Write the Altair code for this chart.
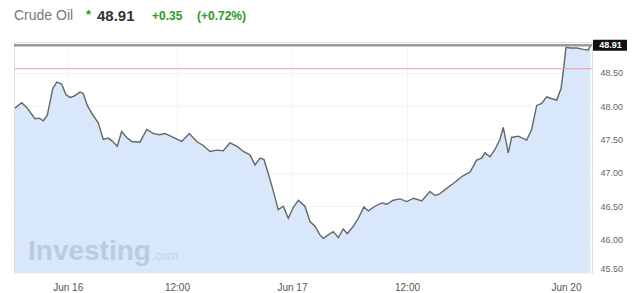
import altair as alt
import pandas as pd

# trading-hours index (Jun 16 00:00 ~ 1.0) and prices
hours = [-4.41, -3.72, -3.21, -2.36, -1.92, -1.51, -1.10, -0.54, -0.13, 0.38,
         0.82, 1.23, 1.64, 2.26, 2.59, 3.01, 3.56, 4.13, 4.65, 5.16,
         5.61, 6.08, 6.53, 7.05, 7.56, 8.41, 9.10, 9.77, 10.39, 10.97,
         11.83, 12.69, 13.47, 14.23, 14.90, 15.59, 16.28, 16.95, 17.64, 18.33,
         19.01, 19.69, 20.21, 20.72, 21.13, 21.57, 22.08, 22.59, 23.11, 23.62,
         24.13, 24.65, 25.33, 25.85, 26.36, 26.87, 27.21, 27.72, 28.24, 28.75,
         29.26, 29.67, 30.29, 30.80, 31.38, 31.83, 32.51, 33.20, 33.71, 34.39,
         35.08, 35.76, 36.51, 37.30, 38.15, 38.67, 39.11, 39.52, 40.54, 41.57,
         42.26, 42.94, 43.46, 43.79, 44.31, 44.82, 45.33, 45.67, 46.18, 46.53,
         47.21, 48.07, 48.58, 49.10, 49.61, 50.12, 50.64, 51.15, 51.59, 51.83,
         52.10, 52.51, 53.20, 53.88, 54.39, 54.62]
prices = [47.97, 48.05, 47.98, 47.81, 47.82, 47.78, 47.86, 48.26, 48.36, 48.33,
          48.17, 48.13, 48.15, 48.21, 48.19, 48.01, 47.87, 47.75, 47.50, 47.52,
          47.47, 47.40, 47.62, 47.53, 47.47, 47.46, 47.65, 47.59, 47.57, 47.59,
          47.53, 47.47, 47.59, 47.47, 47.41, 47.32, 47.34, 47.33, 47.45, 47.40,
          47.32, 47.27, 47.12, 47.22, 47.20, 46.99, 46.73, 46.45, 46.50, 46.32,
          46.48, 46.59, 46.50, 46.27, 46.20, 46.07, 46.02, 46.07, 46.12, 46.03,
          46.16, 46.09, 46.20, 46.32, 46.49, 46.43, 46.50, 46.55, 46.53, 46.59,
          46.61, 46.57, 46.62, 46.58, 46.72, 46.66, 46.68, 46.73, 46.84, 46.96,
          47.01, 47.19, 47.22, 47.30, 47.24, 47.35, 47.50, 47.68, 47.30, 47.53,
          47.55, 47.49, 47.65, 48.01, 48.04, 48.14, 48.11, 48.09, 48.26, 48.52,
          48.88, 48.87, 48.87, 48.85, 48.84, 48.91]

tick_hours = [1.0, 12.2, 24.0, 35.8, 52.1]
tick_labels = ["Jun 16", "12:00", "Jun 17", "12:00", "Jun 20"]
y_ticks = [45.5, 46.0, 46.5, 47.0, 47.5, 48.0, 48.5]

instrument = "Crude Oil"
last_price = 48.91
change = 0.35
change_pct = 0.72
prev_close = round(last_price - change, 2)
watermark = "Investing"
watermark_suffix = ".com"

df = pd.DataFrame({"t": hours, "p": prices})

label_expr = ""
for v, lab in zip(tick_hours, tick_labels):
    label_expr += f"abs(datum.value - {v}) < 0.01 ? '{lab}' : "
label_expr += "''"

FONT = "Liberation Sans"

xscale = alt.Scale(domain=[-4.51, 54.77], nice=False, zero=False)
yscale = alt.Scale(domain=[45.50, 48.96], nice=False, zero=False)

yaxis = alt.Axis(orient="right", values=y_ticks, format=".2f",
                 domain=False, ticks=False, grid=True,
                 gridColor="#f4f4f4", labelColor="#666",
                 labelFontSize=9, labelPadding=8, labelFont=FONT,
                 labelOverlap=False, labelFlush=False,
                 labelBaseline={"condition": {"test": "datum.value < 45.6",
                                              "value": "bottom"},
                                "value": "middle"},
                 title=None)

base = alt.Chart(df).encode(
    x=alt.X("t:Q", scale=xscale,
            axis=alt.Axis(values=tick_hours, labelExpr=label_expr, domain=False,
                          ticks=False, grid=True, gridColor="#f4f4f4",
                          labelColor="#555", labelFontSize=10, labelPadding=9,
                          labelFont=FONT, labelOverlap=False, title=None)),
    y=alt.Y("p:Q", scale=yscale, axis=yaxis),
)

area = base.mark_area(color="#d8e7f9", opacity=1, clip=True)
line = base.mark_line(color="#666666", strokeWidth=1.4, clip=True)

one = pd.DataFrame({"a": [0]})


def ydatum(v):
    return alt.Y(datum=v, type="quantitative", scale=yscale, axis=yaxis)


close_rule = alt.Chart(one).mark_rule(color="#9a9a9a", strokeWidth=2.5).encode(
    y=ydatum(last_price))
prev_rule = alt.Chart(one).mark_rule(color="#e8a4a4", strokeWidth=1).encode(
    y=ydatum(prev_close))

box = alt.Chart(one).mark_tick(color="#111111", size=35, thickness=11,
                               orient="horizontal", opacity=1).encode(
    x=alt.value(596.5), y=ydatum(last_price))
box_text = alt.Chart(one).mark_text(color="white", fontSize=9, font=FONT,
                                    fontWeight="bold", align="center",
                                    baseline="middle",
                                    text=f"{last_price:.2f}").encode(
    x=alt.value(596.5), y=ydatum(last_price))


def label(txt, x, size, color, weight="normal", y=-26, font=FONT):
    return alt.Chart(one).mark_text(text=txt, fontSize=size, color=color,
                                    fontWeight=weight, align="left",
                                    baseline="middle", font=font).encode(
        x=alt.value(x), y=alt.value(y))


h1 = label(instrument, 0, 14, "#777777")
h2 = label("*", 72, 13, "#2a9a2a", "bold", y=-27)
h3 = label(f"{last_price:.2f}", 83, 15, "#333333", "bold")
h4 = label(f"+{change:.2f}", 138, 12, "#2a9a2a", "bold")
h5 = label(f"(+{change_pct:.2f}%)", 183, 12, "#2a9a2a", "bold")

wm1 = alt.Chart(one).mark_text(text=watermark, fontSize=28, color="#bccbdc",
                               fontWeight="bold", align="left",
                               baseline="alphabetic", font=FONT).encode(
    x=alt.value(14), y=alt.value(218))
wm2 = alt.Chart(one).mark_text(text=watermark_suffix, fontSize=12,
                               color="#c4d2e2", align="left",
                               baseline="alphabetic", font=FONT).encode(
    x=alt.value(138), y=alt.value(218))

chart = alt.layer(area, line, wm1, wm2, prev_rule, close_rule, box, box_text,
                  h1, h2, h3, h4, h5).properties(
    width=578, height=231,
    autosize=alt.AutoSizeParams(type="none"),
    padding={"left": 6, "top": 34, "right": 35, "bottom": 20},
).configure_view(stroke=None).configure_axis(labelOverlap=False).configure(
    background="white")

chart.save("out.html", embed_options={"renderer": "svg", "actions": False})
